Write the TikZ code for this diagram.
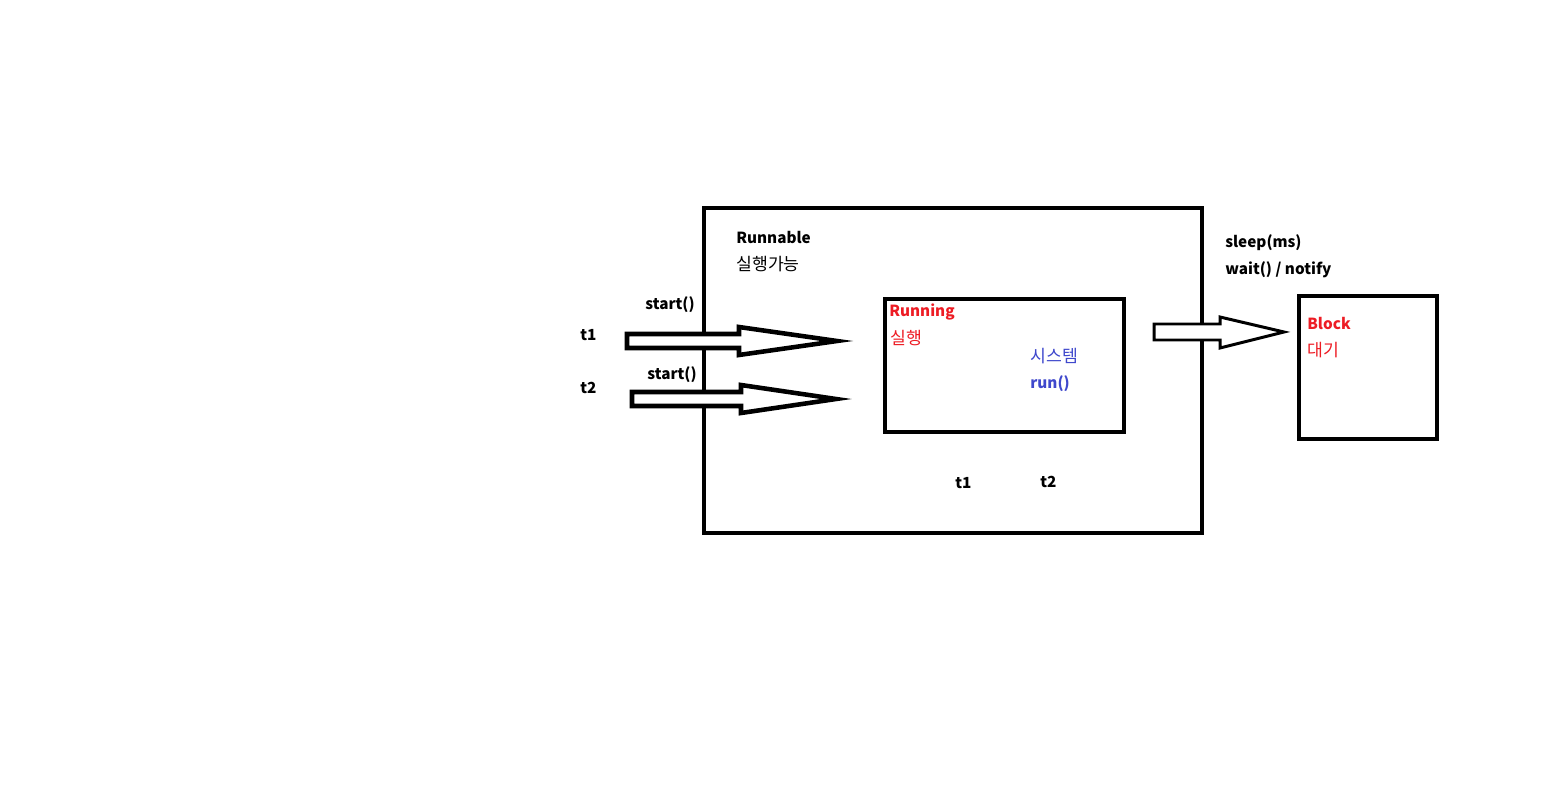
\documentclass[tikz,border=0pt]{standalone}
\usepackage{fontspec}
\setmainfont{Noto Sans CJK KR}
\definecolor{paintred}{RGB}{237,28,36}
\definecolor{paintblue}{RGB}{63,72,204}
\begin{document}
\begin{tikzpicture}[x=0.02cm, y=-0.02cm,
    lbl/.style={anchor=west, inner sep=0pt, font=\fontsize{8.7}{10}\selectfont\bfseries},
    kor/.style={anchor=west, inner sep=0pt, font=\fontsize{9.8}{11}\selectfont},
    statebox/.style={line width=2.6pt},
    fatarrow/.style={line width=2.6pt, line join=miter, fill=white}]
  \useasboundingbox (0,0) rectangle (1566,805);
  % boxes
  \draw[statebox] (704,208) rectangle (1202,533);
  \draw[statebox] (885,299) rectangle (1124,432);
  \draw[statebox] (1299,296) rectangle (1437,439);
  % start() arrows
  \foreach \tail/\base/\tip/\y in {627/739/837/341, 632/741/836/399} {
    \draw[fatarrow] (\tail, \y-7) -- (\base, \y-7) -- (\base, \y-14) -- (\tip, \y)
        -- (\base, \y+14) -- (\base, \y+7) -- (\tail, \y+7) -- cycle;
  }
  \draw[fatarrow, line width=1.7pt] (1154,324) -- (1220,324) -- (1220,317) -- (1284,332)
      -- (1220,348) -- (1220,340) -- (1154,340) -- cycle;
  % texts
  \node[lbl] (runnable) at (736,237) {Runnable};
  \node[kor] (runnablek) at (736,264) {실행가능};
  \node[lbl] (start1) at (645,305) {start()};
  \node[lbl] (t1) at (580,335) {t1};
  \node[lbl] (start2) at (647,375) {start()};
  \node[lbl] (t2) at (580,388) {t2};
  \node[lbl, paintred] (running) at (889,312) {Running};
  \node[kor, paintred] (runningk) at (890,338) {실행};
  \node[kor, paintblue] (system) at (1030,356) {시스템};
  \node[lbl, paintblue] (run) at (1030,384) {run()};
  \node[lbl] (t1in) at (955,483) {t1};
  \node[lbl] (t2in) at (1040,482) {t2};
  \node[lbl] (sleep) at (1225,243) {sleep(ms)};
  \node[lbl] (wait) at (1225,270) {wait() / notify};
  \node[lbl, paintred] (block) at (1307,323) {Block};
  \node[kor, paintred] (blockk) at (1307,350) {대기};
\end{tikzpicture}
\end{document}
